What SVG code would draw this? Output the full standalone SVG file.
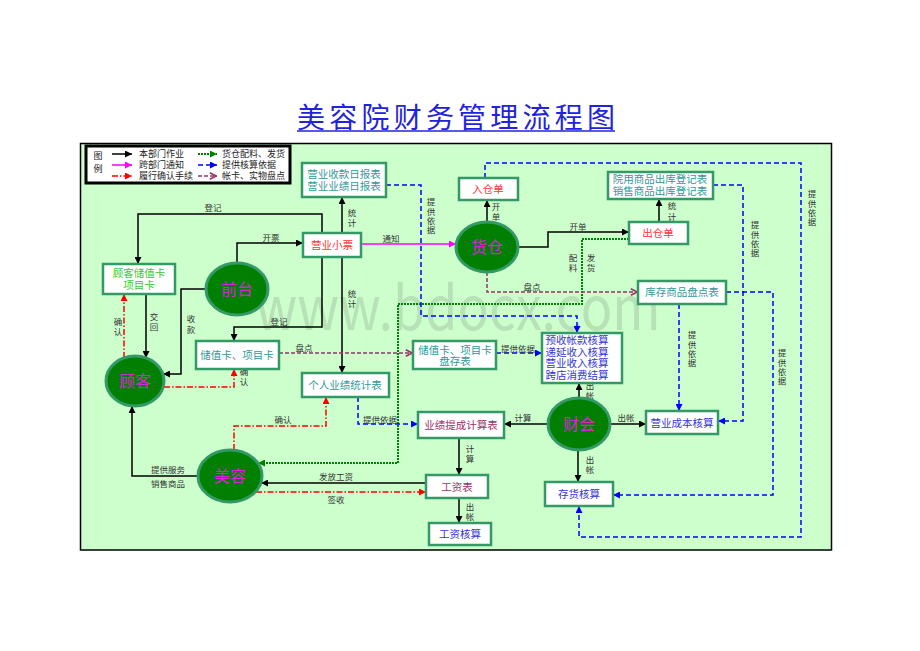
<svg xmlns="http://www.w3.org/2000/svg" width="920" height="651" viewBox="0 0 920 651">
<style>
text{font-family:"Noto Sans CJK SC","Noto Sans",sans-serif}
.lb{font-size:8.5px;fill:#333;text-anchor:middle}
.v{font-size:8.5px;fill:#333;writing-mode:vertical-rl;letter-spacing:1.5px}
.lg{font-size:9px;fill:#222}
.bx{fill:#fff;stroke:#339966;stroke-width:2.5}
.el{fill:#007F00;stroke:#339966;stroke-width:3}
.et{font-size:16px;fill:#DD22DD;text-anchor:middle}
.t{font-size:10.5px;text-anchor:middle}
.teal{fill:#339999}
.red{fill:#FF3333}
.blu{fill:#3333DD}
.mar{fill:#993366}
.grn{fill:#33CC33}
.k{stroke:#000;stroke-width:1.5;fill:none}
.m{stroke:#FF00FF;stroke-width:1.5;fill:none}
.r{stroke:#FF0000;stroke-width:1.5;fill:none;stroke-dasharray:6,2,1.5,2}
.g{stroke:#008000;stroke-width:2;fill:none;stroke-dasharray:2,1}
.b{stroke:#0000FF;stroke-width:1.5;fill:none;stroke-dasharray:5,3}
.p{stroke:#993366;stroke-width:1.5;fill:none;stroke-dasharray:4,2}
</style>
<defs>
<marker id="ak" viewBox="0 0 10 10" refX="10" refY="5" markerWidth="7" markerHeight="7" markerUnits="userSpaceOnUse" orient="auto"><path d="M0,0L10,5L0,10z" fill="#000"/></marker>
<marker id="am" viewBox="0 0 10 10" refX="10" refY="5" markerWidth="7" markerHeight="7" markerUnits="userSpaceOnUse" orient="auto"><path d="M0,0L10,5L0,10z" fill="#FF00FF"/></marker>
<marker id="ar" viewBox="0 0 10 10" refX="10" refY="5" markerWidth="7" markerHeight="7" markerUnits="userSpaceOnUse" orient="auto"><path d="M0,0L10,5L0,10z" fill="#FF0000"/></marker>
<marker id="ag" viewBox="0 0 10 10" refX="10" refY="5" markerWidth="7" markerHeight="7" markerUnits="userSpaceOnUse" orient="auto"><path d="M0,0L10,5L0,10z" fill="#008000"/></marker>
<marker id="ab" viewBox="0 0 10 10" refX="10" refY="5" markerWidth="7" markerHeight="7" markerUnits="userSpaceOnUse" orient="auto"><path d="M0,0L10,5L0,10z" fill="#0000FF"/></marker>
<marker id="ap" viewBox="0 0 10 10" refX="10" refY="5" markerWidth="8" markerHeight="8" markerUnits="userSpaceOnUse" orient="auto"><path d="M1,1L9,5L1,9" fill="none" stroke="#993366" stroke-width="2"/></marker>
</defs>
<rect width="920" height="651" fill="#fff"/>
<text x="456" y="128" font-size="28" fill="#2222DD" textLength="318" lengthAdjust="spacing" text-anchor="middle">美容院财务管理流程图</text>
<line x1="297" y1="131" x2="615" y2="131" stroke="#2222DD" stroke-width="1.5"/>
<rect x="80.5" y="143.5" width="751" height="406.5" fill="#CCFFCC" stroke="#000" stroke-width="1.5"/>
<text x="458" y="330" font-family="Liberation Sans,sans-serif" font-size="60" fill="#8FA88F" fill-opacity="0.35" text-anchor="middle" textLength="405" lengthAdjust="spacingAndGlyphs">www.bdocx.com</text>

<g id="legend">
<rect x="86" y="146" width="204" height="37" fill="#fff" stroke="#000" stroke-width="3"/>
<text class="lg" x="98" y="151" style="writing-mode:vertical-rl;letter-spacing:4px">图例</text>
<line class="k" x1="112" y1="154" x2="132" y2="154" marker-end="url(#ak)"/>
<text class="lg" x="139" y="157">本部门作业</text>
<line class="m" x1="112" y1="165" x2="132" y2="165" marker-end="url(#am)"/>
<text class="lg" x="139" y="168">跨部门通知</text>
<line class="r" x1="112" y1="176" x2="132" y2="176" marker-end="url(#ar)"/>
<text class="lg" x="139" y="179">履行确认手续</text>
<line class="g" x1="198" y1="154" x2="217" y2="154" marker-end="url(#ag)"/>
<text class="lg" x="222" y="157">货仓配料、发货</text>
<line class="b" x1="198" y1="165" x2="217" y2="165" marker-end="url(#ab)"/>
<text class="lg" x="222" y="168">提供核算依据</text>
<line class="p" x1="198" y1="176" x2="217" y2="176" marker-end="url(#ap)"/>
<text class="lg" x="222" y="179">帐卡、实物盘点</text>
</g>

<g id="connectors">
<path class="k" d="M342,233V197" marker-end="url(#ak)"/>
<path class="k" d="M322,233V214H138V264" marker-end="url(#ak)"/>
<path class="k" d="M237,263V243H303" marker-end="url(#ak)"/>
<path class="k" d="M207,289H181V374H163" marker-end="url(#ak)"/>
<path class="k" d="M146,294V358" marker-end="url(#ak)"/>
<path class="k" d="M322,257V327H234V341" marker-end="url(#ak)"/>
<path class="k" d="M342,257V373" marker-end="url(#ak)"/>
<path class="k" d="M487,222V200" marker-end="url(#ak)"/>
<path class="k" d="M517,247H548V232H629" marker-end="url(#ak)"/>
<path class="k" d="M659,222V199" marker-end="url(#ak)"/>
<path class="k" d="M579,398V383" marker-end="url(#ak)"/>
<path class="k" d="M548,424H504" marker-end="url(#ak)"/>
<path class="k" d="M610,424H646" marker-end="url(#ak)"/>
<path class="k" d="M578,450V482" marker-end="url(#ak)"/>
<path class="k" d="M459,438V475" marker-end="url(#ak)"/>
<path class="k" d="M459,498V523" marker-end="url(#ak)"/>
<path class="k" d="M426,483H261" marker-end="url(#ak)"/>
<path class="k" d="M198,476H132V406" marker-end="url(#ak)"/>
<path class="m" d="M361,244H456" marker-end="url(#am)"/>
<path class="r" d="M124,358V294" marker-end="url(#ar)"/>
<path class="r" d="M164,387H234V369" marker-end="url(#ar)"/>
<path class="r" d="M234,450V426H326V397" marker-end="url(#ar)"/>
<path class="r" d="M256,492H426" marker-end="url(#ar)"/>
<path class="g" d="M629,239H582V304H398V463H258" marker-end="url(#ag)"/>
<path class="p" d="M487,272V292H638" marker-end="url(#ap)"/>
<path class="p" d="M279,353H413" marker-end="url(#ap)"/>
<path class="b" d="M386,185H421V316H577V333" marker-end="url(#ab)"/>
<path class="b" d="M496,353H542" marker-end="url(#ab)"/>
<path class="b" d="M358,397V424H418" marker-end="url(#ab)"/>
<path class="b" d="M485,178V163H801V537H579V506" marker-end="url(#ab)"/>
<path class="b" d="M713,185H743V421H718" marker-end="url(#ab)"/>
<path class="b" d="M679,304V411" marker-end="url(#ab)"/>
<path class="b" d="M726,292H773V495H613" marker-end="url(#ab)"/>

<text class="v" x="352" y="209">统计</text>
<text class="lb" x="213" y="211">登记</text>
<text class="lb" x="271" y="241">开票</text>
<text class="v" x="191" y="315" style="letter-spacing:2.5px">收款</text>
<text class="v" x="154" y="313">交回</text>
<text class="lb" x="279" y="325">登记</text>
<text class="v" x="352" y="290">统计</text>
<text class="v" x="496" y="203">开单</text>
<text class="lb" x="578" y="230">开单</text>
<text class="v" x="672" y="202" style="letter-spacing:2.5px">统计</text>
<text class="v" x="590" y="382">出帐</text>
<text class="lb" x="523" y="421">计算</text>
<text class="lb" x="626" y="421">出帐</text>
<text class="v" x="590" y="456">出帐</text>
<text class="v" x="470" y="445">计算</text>
<text class="v" x="470" y="503">出帐</text>
<text class="lb" x="336" y="480">发放工资</text>
<text class="lb" x="168" y="473">提供服务</text>
<text class="lb" x="168" y="487">销售商品</text>
<text class="lb" x="391" y="242">通知</text>
<text class="v" x="118" y="318">确认</text>
<text class="v" x="244" y="368">确认</text>
<text class="lb" x="283" y="423">确认</text>
<text class="lb" x="336" y="503">签收</text>
<text class="v" x="573" y="254">配料</text>
<text class="v" x="591" y="254">发货</text>
<text class="lb" x="532" y="290">盘点</text>
<text class="lb" x="304" y="351">盘点</text>
<text class="v" x="431" y="198" style="letter-spacing:0.8px">提供依据</text>
<text class="lb" x="518" y="352">提供依据</text>
<text class="lb" x="380" y="423">提供依据</text>
<text class="v" x="812" y="190" style="letter-spacing:0.8px">提供依据</text>
<text class="v" x="755" y="221" style="letter-spacing:0.8px">提供依据</text>
<text class="v" x="692" y="331" style="letter-spacing:0.8px">提供依据</text>
<text class="v" x="782" y="349" style="letter-spacing:0.8px">提供依据</text>
</g>

<g id="n-report"><rect class="bx" x="302" y="163" width="84" height="34"/><text class="t teal" x="344" y="178"><tspan x="344">营业收款日报表</tspan><tspan x="344" dy="12">营业业绩日报表</tspan></text></g>
<g id="n-ticket"><rect class="bx" x="303" y="233" width="58" height="24"/><text class="t red" x="332" y="249">营业小票</text></g>
<g id="n-in"><rect class="bx" x="459" y="178" width="59" height="22"/><text class="t red" x="488" y="193">入仓单</text></g>
<g id="n-out"><rect class="bx" x="629" y="222" width="59" height="22"/><text class="t red" x="658" y="237">出仓单</text></g>
<g id="n-ship"><rect class="bx" x="608" y="172" width="105" height="27"/><text class="t teal" x="660" y="183"><tspan x="660">院用商品出库登记表</tspan><tspan x="660" dy="12">销售商品出库登记表</tspan></text></g>
<g id="n-invcount"><rect class="bx" x="638" y="281" width="88" height="23"/><text class="t teal" x="682" y="296">库存商品盘点表</text></g>
<g id="n-custcard"><rect class="bx" x="103" y="264" width="72" height="30"/><text class="t grn" x="139" y="277"><tspan x="139">顾客储值卡</tspan><tspan x="139" dy="12">项目卡</tspan></text></g>
<g id="n-card"><rect class="bx" x="196" y="341" width="83" height="28"/><text class="t teal" x="237" y="359">储值卡、项目卡</text></g>
<g id="n-perf"><rect class="bx" x="302" y="373" width="87" height="24"/><text class="t teal" x="345" y="389">个人业绩统计表</text></g>
<g id="n-stock"><rect class="bx" x="413" y="341" width="83" height="28"/><text class="t teal" x="455" y="354"><tspan x="455">储值卡、项目卡</tspan><tspan x="455" dy="11">盘存表</tspan></text></g>
<g id="n-recv"><rect class="bx" x="542" y="333" width="80" height="50"/><text class="t blu" x="577" y="344"><tspan x="577">预收帐款核算</tspan><tspan x="577" dy="11.5">递延收入核算</tspan><tspan x="577" dy="11.5">营业收入核算</tspan><tspan x="577" dy="11.5">跨店消费结算</tspan></text></g>
<g id="n-cost"><rect class="bx" x="646" y="411" width="72" height="23"/><text class="t blu" x="682" y="427">营业成本核算</text></g>
<g id="n-comm"><rect class="bx" x="418" y="412" width="86" height="26"/><text class="t mar" x="461" y="429">业绩提成计算表</text></g>
<g id="n-wage"><rect class="bx" x="426" y="475" width="62" height="23"/><text class="t mar" x="457" y="491">工资表</text></g>
<g id="n-wagecalc"><rect class="bx" x="429" y="523" width="62" height="22"/><text class="t blu" x="460" y="538">工资核算</text></g>
<g id="n-stockcalc"><rect class="bx" x="545" y="482" width="68" height="24"/><text class="t blu" x="579" y="498">存货核算</text></g>

<g id="e-front"><ellipse class="el" cx="237" cy="289" rx="31" ry="26"/><text class="et" x="237" y="295">前台</text></g>
<g id="e-store"><ellipse class="el" cx="487" cy="247" rx="31" ry="25"/><text class="et" x="487" y="253">货仓</text></g>
<g id="e-cust"><ellipse class="el" cx="135" cy="381" rx="29" ry="25"/><text class="et" x="135" y="387">顾客</text></g>
<g id="e-fin"><ellipse class="el" cx="579" cy="424" rx="31" ry="26"/><text class="et" x="579" y="430">财会</text></g>
<g id="e-beauty"><ellipse class="el" cx="230" cy="476" rx="32" ry="26"/><text class="et" x="230" y="482">美容</text></g>
</svg>
